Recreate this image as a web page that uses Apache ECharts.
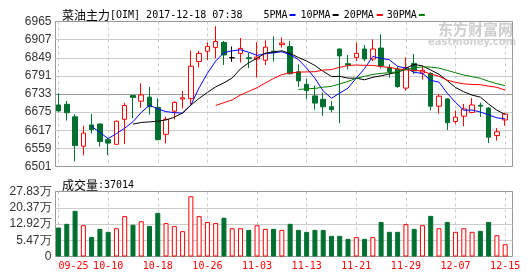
<!DOCTYPE html>
<html>
<head>
<meta charset="utf-8">
<script src="https://cdn.jsdelivr.net/npm/echarts@6.0.0/dist/echarts.min.js"></script>
<style>
html,body{margin:0;padding:0;background:#fff;}
#c{width:530px;height:276px;}
</style>
</head>
<body>
<div id="c"></div>
<script>
// ---- data ----
const dates = ['09-25','09-26','09-27','09-28','09-29','10-09','10-10','10-11','10-12','10-13',
  '10-16','10-17','10-18','10-19','10-20','10-23','10-24','10-25','10-26','10-27',
  '10-30','10-31','11-01','11-02','11-03','11-06','11-07','11-08','11-09','11-10',
  '11-13','11-14','11-15','11-16','11-17','11-20','11-21','11-22','11-23','11-24',
  '11-27','11-28','11-29','11-30','12-01','12-04','12-05','12-06','12-07','12-08',
  '12-11','12-12','12-13','12-14','12-15'];
const opens = [6698,6700,6660,6566,6634,6637,6587,6572,6652,6728,
  6710,6723,6690,6604,6678,6717,6718,6837,6870,6882,
  6898,6849,6863,6849,6845,6841,6870,6891,6885,6804,
  6764,6727,6716,6692,6877,6830,6850,6877,6845,6880,
  6818,6812,6752,6831,6800,6799,6694,6717,6645,6662,
  6674,6697,6688,6600,6650];
const closes = [6679,6673,6568,6608,6619,6581,6576,6646,6696,6722,
  6730,6692,6587,6652,6706,6721,6822,6863,6885,6901,
  6858,6849,6879,6846,6851,6883,6865,6896,6798,6775,
  6744,6704,6692,6683,6855,6826,6863,6845,6877,6823,
  6805,6757,6818,6807,6809,6694,6726,6641,6659,6685,
  6698,6694,6595,6612,6669];
const lows = [6676,6648,6517,6537,6607,6565,6538,6571,6573,6656,
  6689,6667,6585,6575,6652,6687,6700,6818,6842,6848,
  6826,6836,6834,6816,6786,6826,6837,6882,6795,6756,
  6717,6683,6663,6674,6639,6812,6839,6838,6838,6815,
  6786,6752,6744,6797,6779,6680,6670,6618,6638,6630,
  6671,6660,6576,6584,6632];
const highs = [6736,6711,6669,6631,6669,6639,6592,6648,6705,6729,
  6767,6755,6719,6660,6710,6743,6872,6871,6898,6950,
  6903,6885,6912,6864,6899,6905,6917,6914,6903,6828,
  6782,6760,6738,6710,6878,6858,6898,6890,6908,6924,
  6828,6820,6850,6861,6823,6803,6733,6720,6680,6701,
  6720,6705,6691,6624,6671];
// volume, in 万
const volumes = [12.4,14.0,19.55,13.4,8.4,11.85,10.56,12.1,17.3,13.6,
  15.1,13.1,18.7,14.3,13.0,10.85,25.8,17.3,14.8,14.3,
  16.6,12.1,12.1,11.4,13.4,11.85,11.85,11.4,14.0,11.4,
  10.56,11.4,11.4,8.85,8.85,7.56,8.28,7.56,8.28,14.8,
  10.56,10.56,13.85,11.85,13.4,17.4,12.1,14.8,10.56,12.1,
  10.56,11.0,14.8,9.1,5.28];
const ma5 = ['-','-','-','-',6629.4,6609.8,6590.4,6606,6623.6,6644.2,
  6674,6697.2,6685.4,6676.6,6673.4,6671.6,6697.6,6752.8,6799.4,6838.4,
  6865.8,6871.2,6874.4,6866.6,6856.6,6861.6,6864.8,6868.2,6858.6,6843.4,
  6815.6,6783.4,6742.6,6719.6,6735.6,6752,6783.8,6814.4,6853.2,6846.8,
  6842.6,6821.4,6816,6802,6799.2,6777,6770.8,6735.4,6705.8,6681,
  6681.8,6675.4,6666.2,6656.8,6653.6];
const ma10 = ['-','-','-','-','-','-','-','-','-',6636.8,
  6641.9,6643.8,6645.7,6650.1,6658.8,6672.8,6697.4,6719.1,6738,6755.9,
  6768.7,6784.4,6813.6,6833,6847.5,6863.7,6868,6871.3,6862.6,6850,
  6838.6,6824.1,6805.4,6789.1,6789.5,6783.8,6783.6,6778.5,6786.4,6791.2,
  6797.3,6802.6,6815.2,6827.6,6823,6809.8,6796.1,6775.7,6753.9,6740.1,
  6729.4,6723.1,6700.8,6681.3,6667.3];
const ma20 = ['-','-','-','-','-','-','-','-','-','-',
  '-','-','-','-','-','-','-','-','-',6696.4,
  6705.3,6714.1,6729.7,6741.6,6753.2,6768.3,6782.7,6795.2,6800.3,6803,
  6803.7,6804.3,6809.5,6811.1,6818.5,6823.8,6825.8,6824.9,6824.5,6820.6,
  6818,6813.4,6810.3,6808.4,6806.3,6796.8,6789.9,6777.1,6770.2,6765.7,
  6763.4,6762.9,6758,6754.5,6745.2];
const ma30 = ['-','-','-','-','-','-','-','-','-','-',
  '-','-','-','-','-','-','-','-','-','-',
  '-','-','-','-','-','-','-','-','-',6747.6,
  6749.7,6750.8,6754.9,6757.4,6765.3,6773.4,6783,6789.6,6795.7,6799,
  6801.5,6803.7,6811.4,6816.6,6820,6819.1,6815.9,6808.5,6801,6793.8,
  6788.4,6783.3,6773.8,6766,6759.9];
const priceMin = 6501, priceMax = 6965, priceStep = 58;
const volMax = 27.83;
const volTickLabels = ['0','5.47万','12.92万','20.37万','27.83万'];
const maNames = ['5PMA','10PMA','20PMA','30PMA'];
const titleText = '菜油主力';
const titleCode = '[OIM] 2017-12-18 07:38';
const volTitle = '成交量';
const volNow = ':37014';

// ---- styles ----
const RED = '#ff0000', GREEN = '#007030';
const maColors = ['#0000ff','#000000','#ff0000','#008000'];
const MONO = 'DejaVu Sans Mono';
const CJK = 'Noto Sans CJK SC';

const candleData = dates.map((d, i) => [opens[i], closes[i], lows[i], highs[i]]);
const volData = volumes.map((v, i) => {
  const up = closes[i] >= opens[i];
  return {
    value: v,
    itemStyle: up ? {color: '#fff', borderColor: RED, borderWidth: 1}
                  : {color: GREEN, borderColor: GREEN, borderWidth: 1}
  };
});

const plotL = 55.5, plotW = 457, dataL = 54.4, dataW = 454.9;
const pTop = 21.5, pH = 145, vTop = 191.5, vH = 65;

const dashSplit = {show: true, interval: 5, alignWithLabel: true,
  lineStyle: {color: '#cccccc', type: [3, 3], width: 1}};

const richBase = {
  c: {fontFamily: CJK, fontSize: 12, fontWeight: 'normal', color: '#000', lineHeight: 14},
  m: {fontFamily: MONO, fontSize: 10, fontWeight: 'normal', color: '#000', lineHeight: 14}
};

const chart = echarts.init(document.getElementById('c'), null, {renderer: 'canvas'});
chart.setOption({
  animation: false,
  backgroundColor: '#fff',
  title: [{
    left: 57, top: 3,
    text: '{c|' + titleText + '}{m|' + titleCode + '}{g21|}{m|' + maNames[0] + '}{g2|}{b0|}{g5|}{m|' +
      maNames[1] + '}{g2|}{b1|}{g5|}{m|' + maNames[2] + '}{g3|}{b2|}{g4|}{m|' + maNames[3] + '}{g2|}{b3|}',
    textStyle: {fontWeight: 'normal', rich: Object.assign({}, richBase, {
      g2: {width: 2, height: 2}, g3: {width: 3, height: 2}, g4: {width: 4, height: 2},
      g5: {width: 5, height: 2}, g21: {width: 21, height: 2},
      b0: {width: 6, height: 2, backgroundColor: maColors[0]},
      b1: {width: 6, height: 2, backgroundColor: maColors[1]},
      b2: {width: 6, height: 2, backgroundColor: maColors[2]},
      b3: {width: 6, height: 2, backgroundColor: maColors[3]}
    })}
  }, {
    left: 57, top: 173,
    text: '{c|' + volTitle + '}{m|' + volNow + '}',
    textStyle: {fontWeight: 'normal', rich: richBase}
  }],
  graphic: [
    {type: 'text', left: 438, top: 22, z: -10, silent: true,
     style: {text: '东方财富网', font: 'bold 15px "Noto Sans CJK SC"', fill: '#cdcdcd'}},
    {type: 'text', left: 428, top: 37, z: -10, silent: true,
     style: {text: 'eastmoney.com', font: 'bold 10px "DejaVu Sans"', fill: '#d2d2d2'}}
  ],
  grid: [
    {left: plotL, top: pTop, width: plotW, height: pH, show: true, borderColor: '#999', borderWidth: 1, backgroundColor: 'transparent'},
    {left: dataL, top: pTop, width: dataW, height: pH},
    {left: plotL, top: vTop, width: plotW, height: vH, show: true, borderColor: '#999', borderWidth: 1, backgroundColor: 'transparent'},
    {left: dataL, top: vTop, width: dataW, height: vH}
  ],
  xAxis: [
    {gridIndex: 0, type: 'value', show: false, min: 0, max: 1},
    {gridIndex: 1, type: 'category', data: dates, boundaryGap: true,
     axisLine: {show: false}, axisTick: {show: false}, axisLabel: {show: false, interval: 5},
     splitLine: dashSplit},
    {gridIndex: 2, type: 'value', show: false, min: 0, max: 1},
    {gridIndex: 3, type: 'category', data: dates, boundaryGap: true,
     axisLine: {show: false}, axisTick: {show: false},
     axisLabel: {show: true, interval: 5, color: RED, fontFamily: MONO, fontSize: 10, margin: 5,
       alignMinLabel: 'left'},
     splitLine: dashSplit}
  ],
  yAxis: [
    {gridIndex: 0, type: 'value', min: priceMin, max: priceMax, interval: priceStep,
     axisLine: {show: false}, axisTick: {show: false},
     axisLabel: {color: '#333', fontFamily: 'Liberation Sans', fontSize: 12, margin: 4,
       formatter: (v) => String(Math.round(v))},
     splitLine: {show: true, lineStyle: {color: ['#999','#ccc','#ccc','#ccc','#999','#ccc','#ccc','#ccc','#999'], width: 1}}},
    {gridIndex: 1, type: 'value', min: priceMin, max: priceMax, show: false, splitLine: {show: false}},
    {gridIndex: 2, type: 'value', min: 0, max: volMax, interval: volMax / 4,
     axisLine: {show: false}, axisTick: {show: false},
     axisLabel: {color: '#333', fontFamily: 'Liberation Sans', fontSize: 12, margin: 4,
       formatter: (v) => volTickLabels[Math.round(v / (volMax / 4))] || ''},
     splitLine: {show: true, lineStyle: {color: ['#999','#ccc','#ccc','#ccc','#999'], width: 1}}},
    {gridIndex: 3, type: 'value', min: 0, max: volMax, show: false, splitLine: {show: false}}
  ],
  series: [
    {name: 'K', type: 'candlestick', xAxisIndex: 1, yAxisIndex: 1, data: candleData, barWidth: 5,
     itemStyle: {color: '#fff', color0: GREEN, borderColor: RED, borderColor0: GREEN,
       borderColorDoji: '#000', borderWidth: 1}},
    {name: maNames[0], type: 'line', xAxisIndex: 1, yAxisIndex: 1, data: ma5, symbol: 'none',
     lineStyle: {color: maColors[0], width: 1}, itemStyle: {color: maColors[0]}},
    {name: maNames[1], type: 'line', xAxisIndex: 1, yAxisIndex: 1, data: ma10, symbol: 'none',
     lineStyle: {color: maColors[1], width: 1}, itemStyle: {color: maColors[1]}},
    {name: maNames[2], type: 'line', xAxisIndex: 1, yAxisIndex: 1, data: ma20, symbol: 'none',
     lineStyle: {color: maColors[2], width: 1}, itemStyle: {color: maColors[2]}},
    {name: maNames[3], type: 'line', xAxisIndex: 1, yAxisIndex: 1, data: ma30, symbol: 'none',
     lineStyle: {color: maColors[3], width: 1}, itemStyle: {color: maColors[3]}},
    {name: 'VOL', type: 'bar', xAxisIndex: 3, yAxisIndex: 3, data: volData, barWidth: 5}
  ]
});
</script>
</body>
</html>
